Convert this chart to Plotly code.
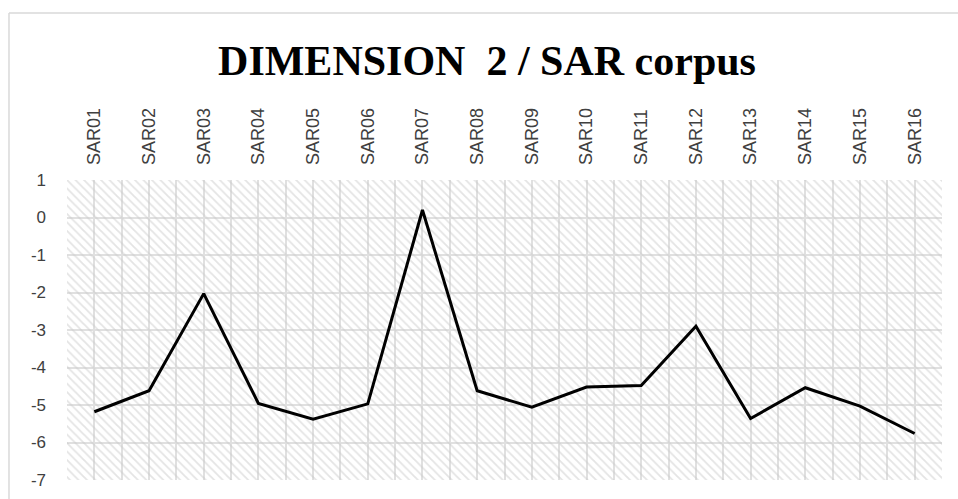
import plotly.graph_objects as go

# Data
categories = ["SAR01", "SAR02", "SAR03", "SAR04", "SAR05", "SAR06", "SAR07", "SAR08",
              "SAR09", "SAR10", "SAR11", "SAR12", "SAR13", "SAR14", "SAR15", "SAR16"]
dim2_values = [-5.18, -4.62, -2.03, -4.96, -5.38, -4.97, 0.2, -4.62,
               -5.06, -4.52, -4.48, -2.9, -5.36, -4.54, -5.03, -5.76]
y_ticks = [1, 0, -1, -2, -3, -4, -5, -6, -7]

y_min, y_max = -7, 1
positions = list(range(1, len(categories) + 1))

# grid every half category: boundaries + centers, labels only on centers
x_tickvals = [p / 2 for p in range(1, 2 * len(categories) + 2)]
x_ticktext = []
for v in x_tickvals:
    if v == int(v) and 1 <= v <= len(categories):
        x_ticktext.append(categories[int(v) - 1])
    else:
        x_ticktext.append("")

fig = go.Figure()

# hatched plot background
fig.add_trace(
    go.Bar(
        x=positions,
        y=[y_max - y_min] * len(positions),
        base=y_min,
        width=1,
        marker=dict(
            color="rgba(0,0,0,0)",
            line=dict(width=0),
            pattern=dict(shape="\\", fgcolor="#c9c9c9", bgcolor="rgba(0,0,0,0)",
                         size=6, solidity=0.3),
        ),
        hoverinfo="skip",
        showlegend=False,
    )
)

fig.add_trace(
    go.Scatter(
        x=positions,
        y=dim2_values,
        mode="lines",
        line=dict(color="black", width=3),
        showlegend=False,
    )
)

# outer chart border: only the left and top edges are on the page
border = dict(color="#d9d9d9", width=1.5)
fig.add_shape(type="line", xref="paper", yref="paper",
              x0=-0.0663, x1=-0.0663, y0=-0.3, y1=1.5567, line=border)
fig.add_shape(type="line", xref="paper", yref="paper",
              x0=-0.0663, x1=1.2, y0=1.5567, y1=1.5567, line=border)

fig.update_layout(
    width=958,
    height=499,
    margin=dict(l=67, r=16, t=180, b=19),
    paper_bgcolor="white",
    plot_bgcolor="white",
    bargap=0,
    title=dict(
        text="DIMENSION\u00a0\u00a02 / SAR corpus",
        font=dict(family="Liberation Serif", size=42, color="black", weight="bold"),
        x=487 / 958, xanchor="center",
        y=1 - 60 / 499, yanchor="middle", yref="container",
    ),
    font=dict(family="Liberation Sans", color="#404040"),
)

fig.update_xaxes(
    side="top",
    range=[0.5, len(categories) + 0.5],
    tickmode="array",
    tickvals=x_tickvals,
    ticktext=x_ticktext,
    tickangle=-90,
    tickfont=dict(size=18, color="#404040"),
    ticklabelstandoff=14,
    showgrid=True,
    gridcolor="#e0e0e0",
    gridwidth=1.5,
    zeroline=False,
    showline=False,
    ticks="",
    automargin=False,
)

fig.update_yaxes(
    range=[y_min, y_max],
    tickmode="array",
    tickvals=y_ticks,
    ticktext=[str(t) for t in y_ticks],
    tickfont=dict(size=17, color="#404040"),
    ticklabelstandoff=20,
    showgrid=True,
    gridcolor="#e0e0e0",
    gridwidth=1.5,
    zeroline=False,
    showline=False,
    ticks="",
    automargin=False,
)

# drop the default page margin and scrollbars so the figure fills the window
page_fix = ("document.body.style.margin='0';"
            "document.body.style.overflow='hidden';"
            "document.documentElement.style.overflow='hidden';")

fig.write_html("out.html", post_script=page_fix, config={"displayModeBar": False})
